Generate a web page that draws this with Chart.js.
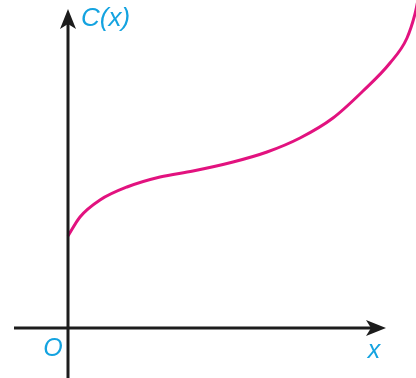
<!DOCTYPE html>
<html>
<head>
<meta charset="utf-8">
<script src="https://cdn.jsdelivr.net/npm/chart.js@4/dist/chart.umd.min.js"></script>
<style>
  html, body { margin: 0; padding: 0; background: #fff; }
  #wrap { width: 416px; height: 378px; }
</style>
</head>
<body>
<div id="wrap"><canvas id="chart" width="416" height="378"></canvas></div>
<script>
// крива C(x), значення
const curveX = [0, 12, 32, 59, 92, 125, 165, 199, 232, 265, 295, 322, 339, 347, 350];
const curveY = [92, 111, 128, 141, 151, 157, 166, 176, 190, 210, 237, 265, 290, 314, 328];

// межі шкал і осей
const xRange = [-68, 348];
const yRange = [-50, 328];
const xAxisStart = -54;
const xArrowTip = 318;
const yArrowTip = 319;

const axisLabels = { y: 'C(x)', x: 'x', origin: 'O' };

const axisColor = '#1c1c1c';
const curveColor = '#e2127f';
const labelColor = '#14a3e0';

// плагін для осей зі стрілками та підписів
const axesPlugin = {
  id: 'axesPlugin',
  afterDatasetsDraw(chart) {
    const { ctx, scales } = chart;
    const xs = scales.x, ys = scales.y;
    const x0 = xs.getPixelForValue(0);
    const y0 = ys.getPixelForValue(0);
    const xTip = xs.getPixelForValue(xArrowTip);
    const yTip = ys.getPixelForValue(yArrowTip);

    ctx.save();
    ctx.strokeStyle = axisColor;
    ctx.fillStyle = axisColor;
    ctx.lineWidth = 3;

    // вісь x
    ctx.beginPath();
    ctx.moveTo(xs.getPixelForValue(xAxisStart), y0);
    ctx.lineTo(xTip - 10, y0);
    ctx.stroke();
    ctx.beginPath();
    ctx.moveTo(xTip, y0);
    ctx.lineTo(xTip - 20, y0 - 8);
    ctx.lineTo(xTip - 15, y0);
    ctx.lineTo(xTip - 20, y0 + 8);
    ctx.closePath();
    ctx.fill();

    // вісь y
    ctx.beginPath();
    ctx.moveTo(x0, ys.getPixelForValue(yRange[0]));
    ctx.lineTo(x0, yTip + 10);
    ctx.stroke();
    ctx.beginPath();
    ctx.moveTo(x0, yTip);
    ctx.lineTo(x0 - 8, yTip + 20);
    ctx.lineTo(x0, yTip + 15);
    ctx.lineTo(x0 + 8, yTip + 20);
    ctx.closePath();
    ctx.fill();

    // підписи
    ctx.fillStyle = labelColor;
    ctx.textBaseline = 'middle';
    ctx.font = 'italic 26px "Liberation Sans", Arial, sans-serif';
    ctx.textAlign = 'left';
    ctx.fillText(axisLabels.y, x0 + 13, yTip + 10);

    ctx.font = 'italic 25px "Liberation Sans", Arial, sans-serif';
    ctx.textAlign = 'center';
    ctx.fillText(axisLabels.origin, x0 - 15, y0 + 21);
    ctx.fillText(axisLabels.x, xTip - 12, y0 + 23);
    ctx.restore();
  }
};

new Chart(document.getElementById('chart'), {
  type: 'scatter',
  data: {
    datasets: [{
      data: curveX.map((x, i) => ({ x: x, y: curveY[i] })),
      showLine: true,
      borderColor: curveColor,
      borderWidth: 3,
      pointRadius: 0,
      cubicInterpolationMode: 'monotone',
      fill: false
    }]
  },
  options: {
    responsive: false,
    animation: false,
    layout: { padding: 0 },
    plugins: {
      legend: { display: false },
      tooltip: { enabled: false }
    },
    scales: {
      x: { type: 'linear', min: xRange[0], max: xRange[1], display: false },
      y: { type: 'linear', min: yRange[0], max: yRange[1], display: false }
    }
  },
  plugins: [axesPlugin]
});
</script>
</body>
</html>
